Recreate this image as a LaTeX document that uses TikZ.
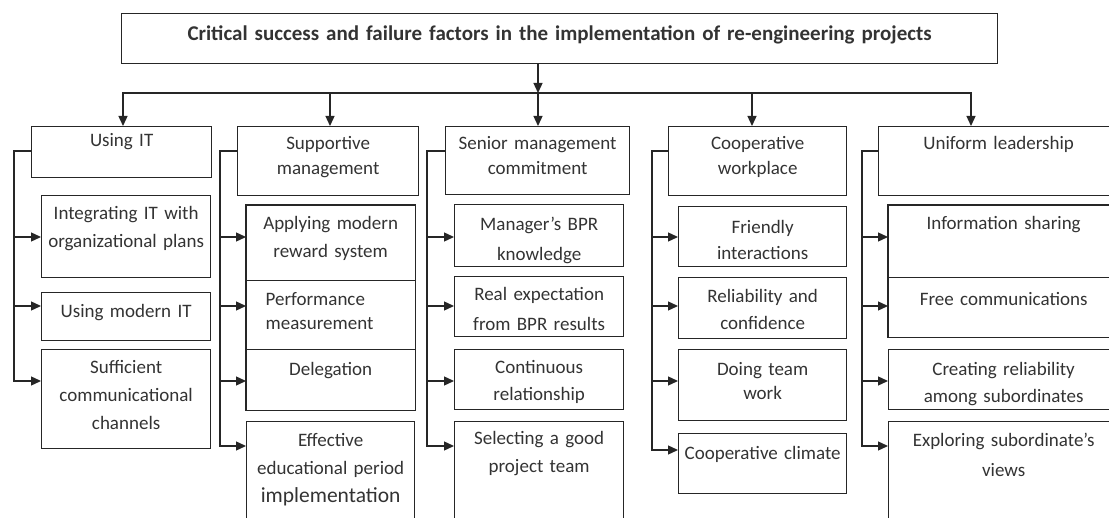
\documentclass[tikz,border=0pt]{standalone}
\usepackage{fontspec}
\setmainfont{Carlito}
\usetikzlibrary{arrows.meta}
\definecolor{inkgray}{HTML}{262626}
\definecolor{textgray}{HTML}{333333}
\tikzset{
	% ------- every something
	every path/.style={
		line width=1.3pt,
	},
	every node/.style={
		font=\fontsize{19}{28}\selectfont, text=textgray,
	},
	% ------- custom
	dims/.style n args={3}{
		text width=#1pt, text height=#2pt, text depth=#3pt,
	},
	box/.style={
		draw=inkgray, line width=1.3pt, anchor=north west, inner sep=0pt, align=center,
	},
	stack/.style={
		anchor=north west, inner sep=0pt, align=center,
	},
	head/.style={
		box, font=\fontsize{19}{25}\selectfont,
	},
	branch/.style={
		draw=inkgray, line width=1.3pt,
	},
	vector/.style={
		branch, -{Triangle[length=10pt,width=9pt]},
	},
	outline/.style={
		draw=inkgray, line width=1.3pt,
	},
	divider/.style={
		draw=inkgray, line width=0.7pt,
	},
}

\begin{document}
\begin{tikzpicture}[x=1pt, y=-1pt]

% frame %{{{1

	% the page crops what runs past the right and bottom edges
	\useasboundingbox (0,0) rectangle (1109,518);

% coordinates %{{{1

	% drops from the top line
	\coordinate (D1) at (123,93);
	\coordinate (D2) at (330,93);
	\coordinate (D3) at (538,93);
	\coordinate (D4) at (752,93);
	\coordinate (D5) at (971,93);

	% trunks
	\coordinate (T1) at (14,151);
	\coordinate (T2) at (220,151);
	\coordinate (T3) at (427,151);
	\coordinate (T4) at (652,151);
	\coordinate (T5) at (862,151);

	% levels of the branch arrows
	\coordinate (L1) at (0,237);
	\coordinate (L2) at (0,306);
	\coordinate (L3) at (0,381);
	\coordinate (L4) at (0,446);
	\coordinate (L5) at (0,450);

% title %{{{1

	\node[box, font=\bfseries\fontsize{21}{24}\selectfont, dims={876}{27}{23}] (title) at (121,13)
	{Critical success and failure factors in the implementation of re-engineering projects};

% factors %{{{1

	\node[head, dims={180}{20}{31}] (usingit) at (31,126) {Using IT};
	\node[head, dims={181}{23}{46}] (supp) at (237,126) {Supportive\\ management};
	\node[head, dims={184}{23}{45}] (senior) at (445,126) {Senior management\\ commitment};
	\node[head, dims={178}{23}{46}] (coop) at (668,126) {Cooperative\\ workplace};
	\node[head, dims={240}{23}{46}] (uniform) at (878,126) {Uniform leadership};

% using IT %{{{1

	\node[box, dims={169}{24}{58}] (integ) at (41,195) {Integrating IT with\\ organizational plans};
	\node[box, dims={169}{25}{23}] (modern) at (41,292) {Using modern IT};
	\node[box, dims={169}{24}{75}] (suff) at (41,349) {Sufficient\\ communicational\\ channels};

% supportive management %{{{1

	\node[stack, dims={168}{24}{50}] (apply) at (246,205) {Applying modern\\ reward system};
	\node[stack, align=left, dims={149}{26}{44}, font=\fontsize{19}{24}\selectfont] (perf) at (265,279) {Performance\\ measurement};
	\node[stack, dims={168}{26}{34}] (deleg) at (246,349) {Delegation};
	\node[box, dims={168}{25}{95}] (effect) at (246,421)
	{Effective\\ educational period\\ {\fontsize{21.5}{28}\selectfont implementation}};

	\draw[outline] (apply.north west) rectangle (deleg.south east);
	\draw[divider] (apply.south west) -- (apply.south east);
	\draw[divider] (deleg.north west) -- (deleg.north east);

% senior management commitment %{{{1

	\node[box, dims={169}{26}{36}, font=\fontsize{19}{30}\selectfont] (mgr) at (454,204) {Manager's BPR\\ knowledge};
	\node[box, dims={169}{24}{36}, font=\fontsize{19}{30}\selectfont] (real) at (454,276) {Real expectation\\ from BPR results};
	\node[box, dims={169}{24}{36}, font=\fontsize{19}{27}\selectfont] (cont) at (454,349) {Continuous\\ relationship};
	\node[box, dims={169}{23}{97}] (sel) at (454,421) {Selecting a good\\ project team};

% cooperative workplace %{{{1

	\node[box, dims={168}{27}{33}, font=\fontsize{19}{26}\selectfont] (friend) at (678,206) {Friendly\\ interactions};
	\node[box, dims={168}{25}{36}, font=\fontsize{19}{27}\selectfont] (rel) at (678,277) {Reliability and\\ confidence};
	\node[box, dims={168}{26}{45}, font=\fontsize{19}{24}\selectfont] (doing) at (678,349) {Doing team\\ work};
	\node[box, dims={168}{26}{34}] (climate) at (678,433) {Cooperative climate};

% uniform leadership %{{{1

	\node[stack, dims={230}{24}{47}] (info) at (888,205) {Information sharing};
	\node[stack, dims={230}{29}{31}] (free) at (888,276) {Free communications};
	\node[box, dims={230}{26}{34}, font=\fontsize{19}{27}\selectfont] (creat) at (888,349) {Creating reliability\\ among subordinates};
	\node[box, dims={230}{25}{95}, font=\fontsize{19}{30}\selectfont] (expl) at (888,421) {Exploring subordinate's\\ views};

	\draw[outline] (info.north west) rectangle (free.south east);
	\draw[divider] (info.south west) -- (info.south east);

% top connectors %{{{1

	\draw[vector] (D3 |- title.south) -- (D3);
	\draw[vector] (D2) -- (D1) -- (D1 |- usingit.north);
	\draw[vector] (D4) -- (D5) -- (D5 |- uniform.north);
	\draw[branch] (D2) -- (D4);
	\draw[vector] (D2) -- (D2 |- supp.north);
	\draw[vector] (D3) -- (D3 |- senior.north);
	\draw[vector] (D4) -- (D4 |- coop.north);

% branch connectors %{{{1

	\draw[vector] (T1 -| usingit.west) -- (T1) -- (T1 |- L3) -- (suff.west |- L3);
	\foreach \c/\l in {integ/L1, modern/L2}
		\draw[vector] (T1 |- \l) -- (\c.west |- \l);

	\draw[vector] (T2 -| supp.west) -- (T2) -- (T2 |- L4) -- (effect.west |- L4);
	\foreach \c/\l in {apply/L1, apply/L2, deleg/L3}
		\draw[vector] (T2 |- \l) -- (\c.west |- \l);

	\draw[vector] (T3 -| senior.west) -- (T3) -- (T3 |- L4) -- (sel.west |- L4);
	\foreach \c/\l in {mgr/L1, real/L2, cont/L3}
		\draw[vector] (T3 |- \l) -- (\c.west |- \l);

	\draw[vector] (T4 -| coop.west) -- (T4) -- (T4 |- L5) -- (climate.west |- L5);
	\foreach \c/\l in {friend/L1, rel/L2, doing/L3}
		\draw[vector] (T4 |- \l) -- (\c.west |- \l);

	\draw[vector] (T5 -| uniform.west) -- (T5) -- (T5 |- L4) -- (expl.west |- L4);
	\foreach \c/\l in {info/L1, info/L2, creat/L3}
		\draw[vector] (T5 |- \l) -- (\c.west |- \l);

% closing %{{{1

\end{tikzpicture}
\end{document}
